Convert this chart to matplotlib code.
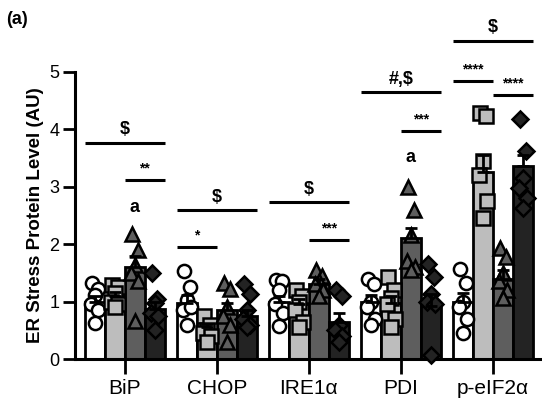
import numpy as np
import matplotlib
matplotlib.use('Agg')
import matplotlib.pyplot as plt

plt.rcParams['font.family'] = ['Liberation Sans', 'DejaVu Sans']

groups = ['BiP', 'CHOP', 'IRE1α', 'PDI', 'p-eIF2α']

# bar means (4 conditions per protein)
mean_white = [1.0, 0.97, 1.0, 1.0, 1.0]
mean_light = [1.1, 0.55, 0.95, 0.97, 3.25]
mean_dark = [1.6, 0.85, 1.3, 2.1, 1.4]
mean_black = [0.87, 0.75, 0.65, 0.92, 3.35]

# sem (drawn upward only)
sem_white = [0.1, 0.15, 0.1, 0.12, 0.15]
sem_light = [0.07, 0.06, 0.1, 0.12, 0.3]
sem_dark = [0.2, 0.13, 0.1, 0.18, 0.15]
sem_black = [0.12, 0.1, 0.15, 0.22, 0.2]

# individual points
pts_white = [[1.32, 1.22, 1.12, 0.95, 0.85, 0.62],
             [1.54, 1.25, 1.02, 0.85, 0.9, 0.59],
             [1.37, 1.35, 1.2, 0.95, 0.8, 0.58],
             [1.4, 1.3, 1.0, 0.9, 0.7, 0.6],
             [1.57, 1.33, 1.0, 0.9, 0.7, 0.45]]
pts_light = [[1.28, 1.25, 1.15, 1.0, 0.95, 0.9],
             [0.75, 0.6, 0.5, 0.45, 0.4, 0.3],
             [1.2, 1.1, 1.0, 0.85, 0.65, 0.55],
             [1.42, 1.2, 1.07, 0.95, 0.7, 0.55],
             [4.28, 4.22, 3.45, 3.2, 2.75, 2.45]]
pts_dark = [[2.18, 1.89, 1.63, 1.5, 1.35, 0.67],
            [1.33, 1.22, 0.9, 0.75, 0.6, 0.3],
            [1.55, 1.45, 1.35, 1.3, 1.2, 1.1],
            [3.0, 2.6, 2.15, 1.7, 1.6, 1.55],
            [1.94, 1.77, 1.5, 1.35, 1.2, 1.07]]
pts_black = [[1.5, 1.05, 0.97, 0.8, 0.75, 0.5],
             [1.31, 1.14, 0.85, 0.7, 0.6, 0.55],
             [1.2, 1.1, 0.6, 0.5, 0.4, 0.3],
             [1.65, 1.42, 1.14, 1.0, 0.95, 0.08],
             [4.17, 3.62, 3.15, 2.98, 2.8, 2.63]]

# significance brackets: group, first bar, last bar, height, label
sig_group = [0, 0, 1, 1, 2, 2, 3, 3, 4, 4, 4]
sig_from = [0, 2, 0, 0, 0, 2, 0, 2, 0, 0, 2]
sig_to = [3, 3, 3, 1, 3, 3, 3, 3, 3, 1, 3]
sig_y = [3.76, 3.11, 2.59, 1.95, 2.73, 2.07, 4.64, 3.97, 5.53, 4.84, 4.59]
sig_text = ['$', '**', '$', '*', '$', '***', '#,$', '***', '$', '****', '****']

# letters above bars
let_group = [0, 3]
let_y = [2.64, 3.51]
let_text = ['a', 'a']

means = [mean_white, mean_light, mean_dark, mean_black]
sems = [sem_white, sem_light, sem_dark, sem_black]
pts = [pts_white, pts_light, pts_dark, pts_black]
fills = ['white', '#bdbdbd', '#5e5e5e', '#232323']
markers = ['o', 's', '^', 'D']
msizes = [9.5, 9.5, 9.5, 8.5]

w = 0.217
offs = [-1.5 * w, -0.5 * w, 0.5 * w, 1.5 * w]
jit = [-0.03, 0.03, 0.0, -0.04, 0.04, 0.0]

fig = plt.figure(figsize=(5.42, 4.09), dpi=100)
ax = fig.add_axes([0.138, 0.122, 0.862, 0.703])
x = np.arange(len(groups))

for k in range(4):
    ax.bar(x + offs[k], means[k], width=w, color=fills[k], edgecolor='black',
           linewidth=2, zorder=2)
    for g in range(len(groups)):
        ys = pts[k][g]
        xs = [x[g] + offs[k] + jit[i % len(jit)] for i in range(len(ys))]
        ax.plot(xs, ys, linestyle='none', marker=markers[k], ms=msizes[k],
                mfc=fills[k], mec='black', mew=1.8, zorder=3, clip_on=False)
    ax.errorbar(x + offs[k], means[k], yerr=[np.zeros(len(groups)), sems[k]],
                fmt='none', ecolor='black', elinewidth=2, capsize=4,
                capthick=2, zorder=4)

for i in range(len(sig_text)):
    x1 = sig_group[i] + offs[sig_from[i]] - w / 2
    x2 = sig_group[i] + offs[sig_to[i]] + w / 2
    ax.plot([x1, x2], [sig_y[i], sig_y[i]], color='black', lw=2.2,
            clip_on=False, solid_capstyle='butt')
    fs = 13 if '$' in sig_text[i] else 10
    ax.text((x1 + x2) / 2, sig_y[i] + 0.08, sig_text[i], ha='center',
            va='bottom', fontsize=fs, fontweight='bold')

for i in range(len(let_text)):
    ax.text(let_group[i] + offs[2], let_y[i], let_text[i], ha='center',
            va='center', fontsize=13, fontweight='bold')

ax.set_xlim(-0.543, 4.533)
ax.set_ylim(0, 5)
ax.set_xticks(x)
ax.set_xticklabels(groups, fontsize=15)
ax.set_yticks([0, 1, 2, 3, 4, 5])
ax.tick_params(axis='y', labelsize=13, length=9, width=2, pad=2)
ax.tick_params(axis='x', length=11, width=2, pad=3)
ax.spines['top'].set_visible(False)
ax.spines['right'].set_visible(False)
ax.spines['left'].set_linewidth(2.2)
ax.spines['bottom'].set_linewidth(2.2)
ax.set_ylabel('ER Stress Protein Level (AU)', fontsize=13.5, fontweight='bold',
              labelpad=4)

fig.text(0.012, 0.952, '(a)', fontsize=13, fontweight='bold', va='center')

fig.savefig('out.png', dpi=100)
